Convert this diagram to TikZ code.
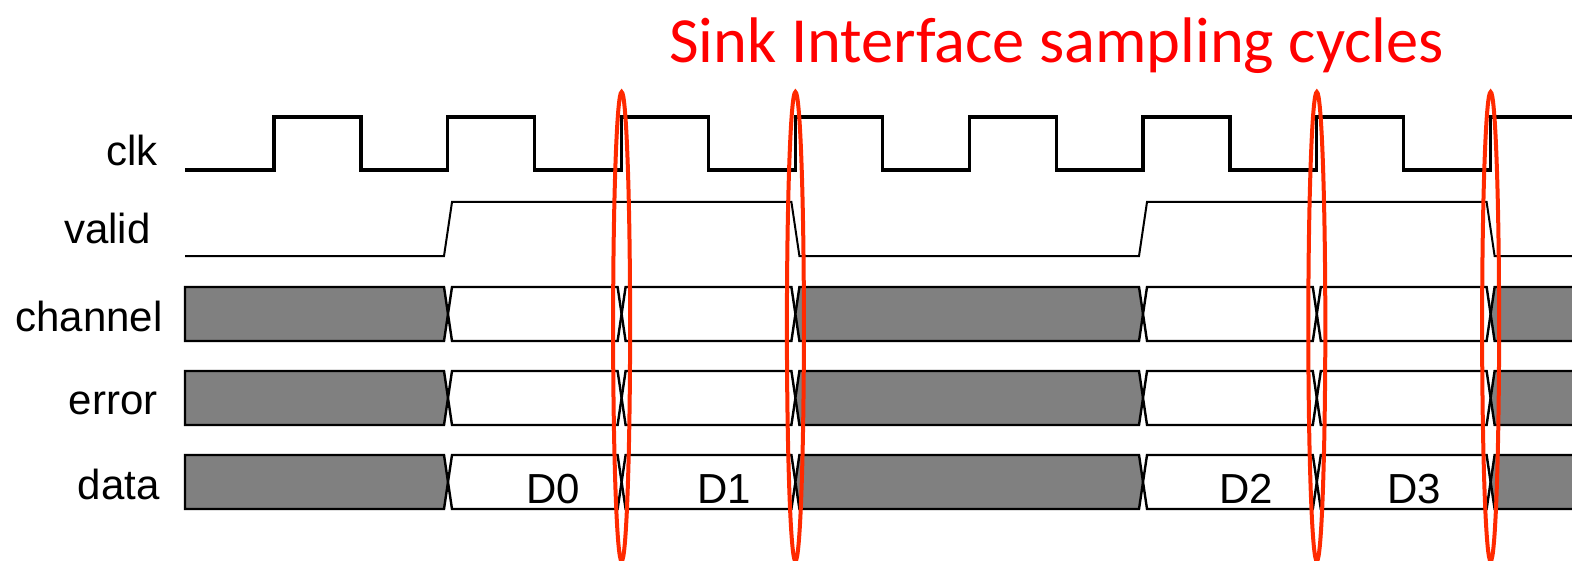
\documentclass[tikz,border=0pt]{standalone}
\usepackage{fontspec}
\setmainfont{Liberation Sans}
\newfontfamily\titlefont{Carlito}
\definecolor{busgray}{HTML}{808080}
\definecolor{sampred}{HTML}{FF2A00}
\definecolor{titlered}{HTML}{FF0000}

\begin{document}
\begin{tikzpicture}[
    x=0.5pt, y=-0.5pt,
    every node/.style={font=\fontsize{21}{24}\selectfont, inner sep=0pt},
    sig/.style={anchor=base east},
    dlbl/.style={anchor=base},
    clkline/.style={line width=1.6pt, line join=miter},
    validline/.style={line width=1pt, line join=miter},
    bus/.style={draw=black, line width=1.2pt, line join=miter},
    samp/.style={draw=sampred, line width=2pt}
]
\useasboundingbox (0,0) rectangle (1572,561);

\node[font=\titlefont\fontsize{32.2}{37}\selectfont, text=titlered, anchor=base west] (title) at (669,63) {Sink Interface sampling cycles};

\node[sig] (lclk) at (158,166) {clk};
\node[sig] (lvalid) at (151,243) {valid};
\node[sig] (lchannel) at (163,331) {channel};
\node[sig] (lerror) at (158,414) {error};
\node[sig] (ldata) at (160,499) {data};

% clock
\draw[clkline] (185,170) foreach \k in {0,...,7} {
    -- ({274+173.8*\k},170) -- ({274+173.8*\k},117)
    -- ({360.9+173.8*\k},117) -- ({360.9+173.8*\k},170) };

% valid
\draw[validline] (185,256) -- (444,256) -- (452,202) -- (791.4,202) -- (799.4,256)
    -- (1139,256) -- (1147,202) -- (1486.6,202) -- (1494.6,256) -- (1600,256);

% channel, error, data buses
\foreach \t in {287,371,455} {
    \pgfmathsetmacro\b{\t+54}
    \pgfmathsetmacro\m{\t+27}
    \filldraw[bus, fill=busgray] (185,\t) -- (444,\t) -- (448,\m) -- (444,\b) -- (185,\b) -- cycle;
    \foreach \a/\z/\col in {448/621.6/white, 621.6/795.4/white, 795.4/1143/busgray,
                            1143/1316.8/white, 1316.8/1490.6/white, 1490.6/1620/busgray} {
        \filldraw[bus, fill=\col] (\a,\m) -- ({\a+4},\t) -- ({\z-4},\t) -- (\z,\m)
            -- ({\z-4},\b) -- ({\a+4},\b) -- cycle;
    }
}

\node[dlbl] (d0) at (553,503) {D0};
\node[dlbl] (d1) at (724,503) {D1};
\node[dlbl] (d2) at (1246,503) {D2};
\node[dlbl] (d3) at (1414,503) {D3};

% sampling cycles
\foreach \c in {621.6,795.4,1316.8,1490.6}
    \draw[samp] (\c,326.5) ellipse [x radius=8.5, y radius=234.5];

\end{tikzpicture}
\end{document}
